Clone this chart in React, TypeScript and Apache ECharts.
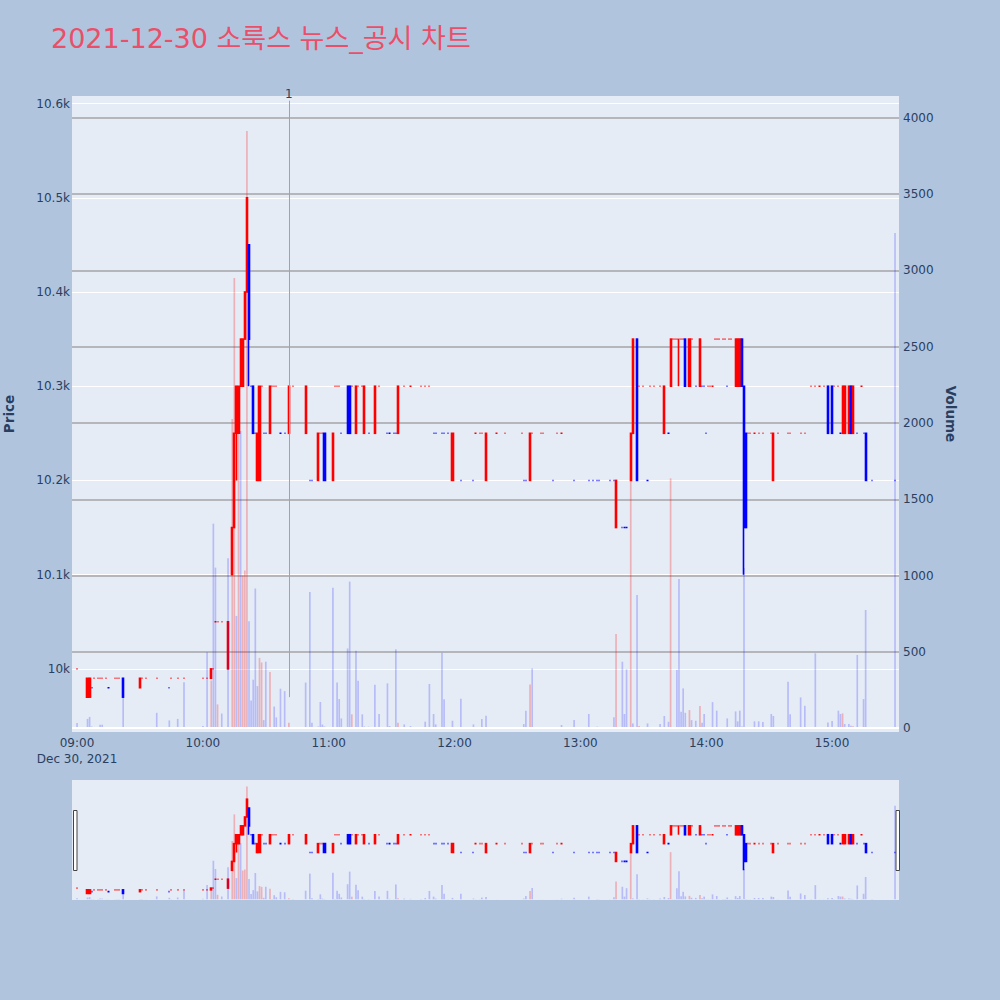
import React, { useEffect, useRef } from 'react';
import * as echarts from 'echarts';

// Rows: [minute of hour, open, close, low, high, volume, volumeUp]
// Flat rows (open = close = low = high): [minute of hour, price, volume, volumeUp]
const H09 = [
  [0, 10000, 33, 0],
  [5, 9970, 9990, 9970, 9990, 60, 0],
  [6, 9970, 9990, 9970, 9990, 73, 0],
  [7, 9980, 10, 0],
  [8, 9990, 5, 0],
  [10, 9990, 5, 0],
  [11, 9990, 22, 0],
  [12, 9990, 22, 0],
  [14, 9990, 5, 0],
  [15, 9980, 5, 0],
  [18, 9990, 5, 0],
  [19, 9990, 5, 0],
  [20, 9990, 5, 0],
  [22, 9990, 9970, 9970, 9990, 272, 0],
  [30, 9980, 9990, 9980, 9990, 5, 0],
  [31, 9990, 5, 0],
  [33, 9990, 3, 0],
  [38, 9990, 100, 0],
  [44, 9980, 50, 0],
  [45, 9990, 5, 0],
  [48, 9990, 60, 0],
  [51, 9990, 300, 0],
];

const H10 = [
  [0, 9990, 14, 0],
  [2, 9990, 497, 0],
  [4, 9990, 10000, 9990, 10000, 312, 1],
  [5, 10000, 1340, 0],
  [6, 10050, 1052, 0],
  [7, 10050, 155, 1],
  [9, 10050, 95, 0],
  [12, 10000, 10050, 10000, 10050, 1114, 0],
  [14, 10100, 10150, 10100, 10150, 2026, 1],
  [15, 10150, 10250, 10150, 10250, 2950, 1],
  [16, 10250, 10300, 10200, 10300, 735, 0],
  [17, 10250, 10300, 10250, 10300, 2100, 1],
  [18, 10300, 10350, 10300, 10350, 1948, 0],
  [19, 10300, 10350, 10300, 10350, 1000, 1],
  [20, 10350, 10400, 10350, 10400, 1033, 1],
  [21, 10400, 10500, 10400, 10500, 3915, 1],
  [22, 10450, 10350, 10300, 10450, 700, 0],
  [23, 10300, 180, 0],
  [24, 10300, 10250, 10250, 10300, 317, 0],
  [25, 10250, 915, 0],
  [26, 10200, 10250, 10200, 10250, 275, 0],
  [27, 10200, 10300, 10200, 10300, 460, 1],
  [28, 10300, 430, 1],
  [29, 10250, 52, 0],
  [30, 10250, 435, 0],
  [32, 10250, 10300, 10250, 10300, 368, 1],
  [33, 10300, 5, 0],
  [34, 10300, 141, 0],
  [35, 10300, 70, 0],
  [37, 10250, 258, 0],
  [39, 10250, 242, 0],
  [41, 10250, 10300, 10250, 10300, 35, 1],
  [43, 10300, 5, 0],
  [49, 10250, 10300, 10250, 10300, 298, 0],
  [51, 10200, 892, 0],
  [52, 10200, 35, 0],
  [55, 10200, 10250, 10200, 10250, 10, 0],
  [56, 10250, 171, 0],
  [57, 10250, 23, 0],
  [58, 10250, 10200, 10200, 10250, 10, 0],
];

const H11 = [
  [2, 10200, 10250, 10200, 10250, 920, 0],
  [3, 10300, 5, 0],
  [4, 10300, 298, 0],
  [5, 10300, 190, 0],
  [6, 10250, 63, 0],
  [9, 10300, 10250, 10250, 10300, 522, 0],
  [10, 10300, 10250, 10250, 10300, 960, 0],
  [11, 10300, 90, 1],
  [13, 10250, 10300, 10250, 10300, 507, 0],
  [14, 10300, 310, 0],
  [16, 10300, 90, 0],
  [17, 10250, 10300, 10250, 10300, 10, 0],
  [19, 10250, 9, 0],
  [22, 10250, 10300, 10250, 10300, 284, 0],
  [24, 10300, 92, 0],
  [28, 10250, 293, 0],
  [29, 10250, 13, 0],
  [31, 10250, 5, 0],
  [32, 10250, 516, 0],
  [33, 10250, 10300, 10250, 10300, 35, 1],
  [36, 10300, 24, 0],
  [39, 10300, 13, 0],
  [44, 10300, 5, 0],
  [46, 10300, 42, 0],
  [48, 10300, 289, 0],
  [50, 10250, 92, 0],
  [51, 10250, 24, 0],
  [54, 10250, 494, 0],
  [55, 10250, 188, 0],
  [57, 10250, 4, 0],
  [59, 10200, 10250, 10200, 10250, 48, 0],
];

const H12 = [
  [3, 10200, 192, 0],
  [9, 10200, 24, 0],
  [10, 10250, 5, 0],
  [12, 10250, 5, 0],
  [13, 10250, 59, 0],
  [15, 10200, 10250, 10200, 10250, 81, 0],
  [20, 10250, 3, 0],
  [24, 10250, 3, 0],
  [32, 10250, 3, 0],
  [33, 10200, 26, 0],
  [34, 10200, 114, 0],
  [36, 10200, 10250, 10200, 10250, 286, 1],
  [37, 10250, 391, 0],
  [41, 10250, 3, 0],
  [42, 10250, 3, 0],
  [47, 10200, 4, 0],
  [49, 10250, 3, 0],
  [51, 10250, 20, 0],
  [57, 10200, 52, 0],
];

const H13 = [
  [4, 10200, 92, 0],
  [6, 10200, 4, 0],
  [8, 10200, 9, 0],
  [9, 10200, 5, 0],
  [14, 10200, 5, 0],
  [16, 10200, 70, 0],
  [17, 10150, 10200, 10150, 10200, 616, 1],
  [20, 10150, 435, 0],
  [21, 10150, 92, 0],
  [22, 10150, 385, 0],
  [24, 10200, 10250, 10200, 10250, 1650, 1],
  [25, 10250, 10350, 10250, 10350, 30, 0],
  [27, 10350, 10200, 10200, 10350, 872, 0],
  [28, 10300, 13, 1],
  [30, 10300, 5, 0],
  [32, 10200, 30, 0],
  [33, 10300, 5, 0],
  [35, 10300, 5, 0],
  [38, 10300, 26, 0],
  [40, 10250, 10300, 10250, 10300, 79, 0],
  [42, 10250, 41, 0],
  [43, 10300, 10350, 10300, 10350, 1637, 1],
  [44, 10350, 5, 0],
  [45, 10350, 5, 0],
  [46, 10350, 380, 0],
  [47, 10350, 10350, 10300, 10350, 977, 0],
  [48, 10350, 107, 0],
  [49, 10350, 260, 0],
  [50, 10350, 10300, 10300, 10350, 100, 0],
  [52, 10300, 10350, 10300, 10350, 118, 1],
  [53, 10350, 52, 0],
  [55, 10300, 48, 0],
  [57, 10300, 10350, 10300, 10350, 144, 1],
  [58, 10300, 35, 0],
  [59, 10300, 92, 0],
];

const H14 = [
  [0, 10250, 5, 0],
  [1, 10300, 5, 0],
  [2, 10300, 5, 0],
  [3, 10300, 170, 0],
  [4, 10350, 5, 0],
  [5, 10350, 114, 0],
  [6, 10350, 5, 0],
  [8, 10350, 5, 0],
  [9, 10350, 5, 0],
  [10, 10300, 63, 0],
  [11, 10350, 5, 1],
  [12, 10350, 5, 0],
  [14, 10300, 10350, 10300, 10350, 109, 0],
  [15, 10300, 10350, 10300, 10350, 44, 0],
  [16, 10300, 10350, 10300, 10350, 114, 0],
  [17, 10350, 10300, 10300, 10350, 10, 0],
  [18, 10300, 10150, 10100, 10300, 1050, 0],
  [19, 10250, 10150, 10150, 10250, 5, 0],
  [20, 10250, 5, 0],
  [21, 10250, 5, 0],
  [23, 10250, 44, 0],
  [25, 10250, 44, 0],
  [27, 10250, 40, 0],
  [31, 10250, 92, 0],
  [32, 10200, 10250, 10200, 10250, 79, 0],
  [34, 10250, 5, 0],
  [39, 10250, 304, 0],
  [40, 10250, 90, 0],
  [45, 10250, 201, 0],
  [47, 10250, 146, 0],
  [50, 10300, 5, 0],
  [52, 10300, 490, 0],
  [54, 10300, 5, 0],
  [56, 10300, 5, 0],
  [58, 10300, 10250, 10250, 10300, 37, 0],
];

const H15 = [
  [0, 10300, 10250, 10250, 10300, 46, 0],
  [1, 10300, 5, 0],
  [3, 10300, 114, 0],
  [4, 10250, 92, 0],
  [5, 10250, 10300, 10250, 10300, 96, 1],
  [6, 10250, 10300, 10250, 10300, 26, 0],
  [8, 10250, 10300, 10250, 10300, 26, 0],
  [9, 10300, 10250, 10250, 10300, 15, 0],
  [10, 10250, 10300, 10250, 10300, 12, 1],
  [12, 10250, 479, 0],
  [14, 10300, 5, 0],
  [15, 10250, 190, 0],
  [16, 10250, 10200, 10200, 10250, 774, 0],
  [19, 10200, 5, 0],
  [30, 10200, 3246, 0],
];

const HOURS: [number, number[][]][] = [
  [9, H09], [10, H10], [11, H11], [12, H12], [13, H13], [14, H14], [15, H15],
];

const X_TICKS = [0, 60, 120, 180, 240, 300, 360];
const PRICE_TICKS = [10000, 10100, 10200, 10300, 10400, 10500, 10600];
const VOLUME_TICKS = [0, 500, 1000, 1500, 2000, 2500, 3000, 3500, 4000];
const VOLUME_GRID = [500, 1000, 1500, 2000, 2500, 3000, 3500, 4000];
const EVENTS = [{ time: '10:41', label: '1', from: 9970, to: 10603 }];

const TITLE = '2021-12-30 소룩스 뉴스_공시 차트';
const DATE_LABEL = 'Dec 30, 2021';

const X_MIN = -2.4;
const X_MAX = 391.9;
const P_MIN = 9933;
const P_MAX = 10608;
const V_MIN = -26;
const V_MAX = 4144;

const UP = '#ff0000';
const DOWN = '#0000ff';
const VOL_UP = 'rgba(255,0,0,0.25)';
const VOL_DOWN = 'rgba(0,0,255,0.2)';
const FONT = "'DejaVu Sans', 'Noto Sans CJK KR', sans-serif";
const TEXT = '#2a3f5f';

function toMin(t: string) {
  const [h, m] = t.split(':').map(Number);
  return (h - 9) * 60 + m;
}

function fmtTime(v: number) {
  const h = 9 + Math.floor(v / 60);
  const m = v % 60;
  return String(h).padStart(2, '0') + ':' + String(m).padStart(2, '0');
}

function buildRows() {
  const out: any[] = [];
  for (const [h, rows] of HOURS) {
    for (const r of rows) {
      const m = (h - 9) * 60 + r[0];
      if (r.length === 4) out.push({ m, o: r[1], c: r[1], l: r[1], h: r[1], v: r[2], up: r[3] });
      else out.push({ m, o: r[1], c: r[2], l: r[3], h: r[4], v: r[5], up: r[6] });
    }
  }
  return out;
}

export default function App() {
  const ref = useRef<HTMLDivElement>(null);
  useEffect(() => {
    if (!ref.current) return;
    const chart = echarts.init(ref.current, null, { renderer: 'svg' });
    const rows = buildRows();
    let prevC: number | null = null;
    let prevDir = 1;
    const dirs = rows.map((r) => {
      let d;
      if (r.c > r.o) d = 1;
      else if (r.c < r.o) d = -1;
      else if (prevC === null) d = 1;
      else if (r.c > prevC) d = 1;
      else if (r.c < prevC) d = -1;
      else d = prevDir;
      prevC = r.c;
      prevDir = d;
      return d;
    });
    const candleData = rows.map((r, i) => {
      const col = dirs[i] > 0 ? UP : DOWN;
      return {
        value: [r.m, r.o, r.c, r.l, r.h],
        itemStyle: { color: col, color0: col, borderColor: col, borderColor0: col },
      };
    });
    const volData = rows.map((r) => ({
      value: [r.m, r.v],
      itemStyle: { color: r.up ? VOL_UP : VOL_DOWN },
    }));

    const candleBase = {
      type: 'candlestick',
      encode: { x: 0, y: [1, 2, 3, 4] },
      barWidth: 1.6,
      itemStyle: { borderWidth: 1.6 },
      data: candleData,
      z: 2,
    };
    const volBase = {
      type: 'bar',
      barWidth: 1.7,
      data: volData,
      z: 3,
    };

    const option: any = {
      animation: false,
      backgroundColor: '#b0c4de',
      title: {
        text: TITLE,
        left: 51,
        top: 25,
        padding: 0,
        textStyle: { color: '#ea4f6a', fontSize: 27, fontWeight: 'normal', fontFamily: FONT },
      },
      grid: [
        { left: 72, top: 96, width: 827, height: 636, show: true, backgroundColor: '#e5ecf6', borderWidth: 0, containLabel: false, outerBoundsMode: 'none' },
        { left: 72, top: 780, width: 827, height: 120, show: true, backgroundColor: '#e5ecf6', borderWidth: 0, containLabel: false, outerBoundsMode: 'none' },
      ],
      xAxis: [
        {
          type: 'value', gridIndex: 0, min: X_MIN, max: X_MAX,
          axisLine: { show: false },
          axisTick: { show: false, customValues: X_TICKS },
          splitLine: { show: false },
          axisLabel: {
            customValues: X_TICKS,
            color: TEXT, fontSize: 12, fontFamily: FONT, margin: 3, lineHeight: 16,
            formatter: (v: number) => (v === 0 ? fmtTime(v) + '\n' + DATE_LABEL : fmtTime(v)),
          },
        },
        { type: 'value', gridIndex: 1, min: X_MIN, max: X_MAX, show: false, splitLine: { show: false } },
      ],
      yAxis: [
        {
          type: 'value', gridIndex: 0, position: 'left', min: P_MIN, max: P_MAX,
          axisLine: { show: false },
          axisTick: { show: false, customValues: PRICE_TICKS },
          axisLabel: {
            customValues: PRICE_TICKS, color: TEXT, fontSize: 12, fontFamily: FONT, margin: 2,
            formatter: (v: number) => v / 1000 + 'k',
          },
          splitLine: { show: true, lineStyle: { color: '#ffffff', width: 1 } },
          name: 'Price', nameLocation: 'middle', nameGap: 56, nameRotate: 90,
          nameTextStyle: { color: TEXT, fontSize: 13.5, fontWeight: 'bold', fontFamily: FONT },
        },
        {
          type: 'value', gridIndex: 0, position: 'right', min: V_MIN, max: V_MAX,
          axisLine: { show: false },
          axisTick: { show: false, customValues: VOLUME_GRID },
          axisLabel: {
            customValues: VOLUME_TICKS, color: TEXT, fontSize: 12, fontFamily: FONT, margin: 4,
            formatter: (v: number) => String(v),
          },
          splitLine: { show: true, lineStyle: { color: '#a4a4a8', width: 1.5 } },
          name: 'Volume', nameLocation: 'middle', nameGap: 42, nameRotate: -90,
          nameTextStyle: { color: TEXT, fontSize: 13.5, fontWeight: 'bold', fontFamily: FONT },
        },
        { type: 'value', gridIndex: 1, min: P_MIN, max: P_MAX, show: false, splitLine: { show: false } },
        { type: 'value', gridIndex: 1, min: V_MIN, max: V_MAX, show: false, splitLine: { show: false } },
      ],
      series: [
        {
          ...candleBase, xAxisIndex: 0, yAxisIndex: 0,
          markLine: {
            silent: true, symbol: ['none', 'none'], animation: false,
            lineStyle: { color: '#8aa3e6', width: 1, type: 'solid', opacity: 1 },
            label: { show: true, position: 'end', formatter: (p: any) => p.name, color: TEXT, fontSize: 12, fontFamily: FONT, distance: 1 },
            data: EVENTS.map((e) => [
              { name: e.label, coord: [toMin(e.time), e.from] },
              { coord: [toMin(e.time), e.to] },
            ]),
          },
        },
        {
          ...volBase, xAxisIndex: 0, yAxisIndex: 1,
          markLine: {
            silent: true, symbol: ['none', 'none'], animation: false,
            lineStyle: { color: '#ffffff', width: 2, type: 'solid' },
            label: { show: false },
            data: [{ yAxis: 0 }],
          },
        },
        { ...candleBase, xAxisIndex: 1, yAxisIndex: 2 },
        { ...volBase, xAxisIndex: 1, yAxisIndex: 3 },
      ],
      graphic: [
        { type: 'rect', shape: { x: 73.5, y: 810.5, width: 3.5, height: 60 }, style: { fill: '#ffffff', stroke: '#444444', lineWidth: 1 }, z: 100 },
        { type: 'rect', shape: { x: 896, y: 810.5, width: 3.5, height: 60 }, style: { fill: '#ffffff', stroke: '#444444', lineWidth: 1 }, z: 100 },
      ],
    };
    chart.setOption(option);
    return () => chart.dispose();
  }, []);
  return (
    <div
      ref={ref}
      style={{ position: 'absolute', left: 0, top: 0, width: 1000, height: 1000 }}
    />
  );
}
